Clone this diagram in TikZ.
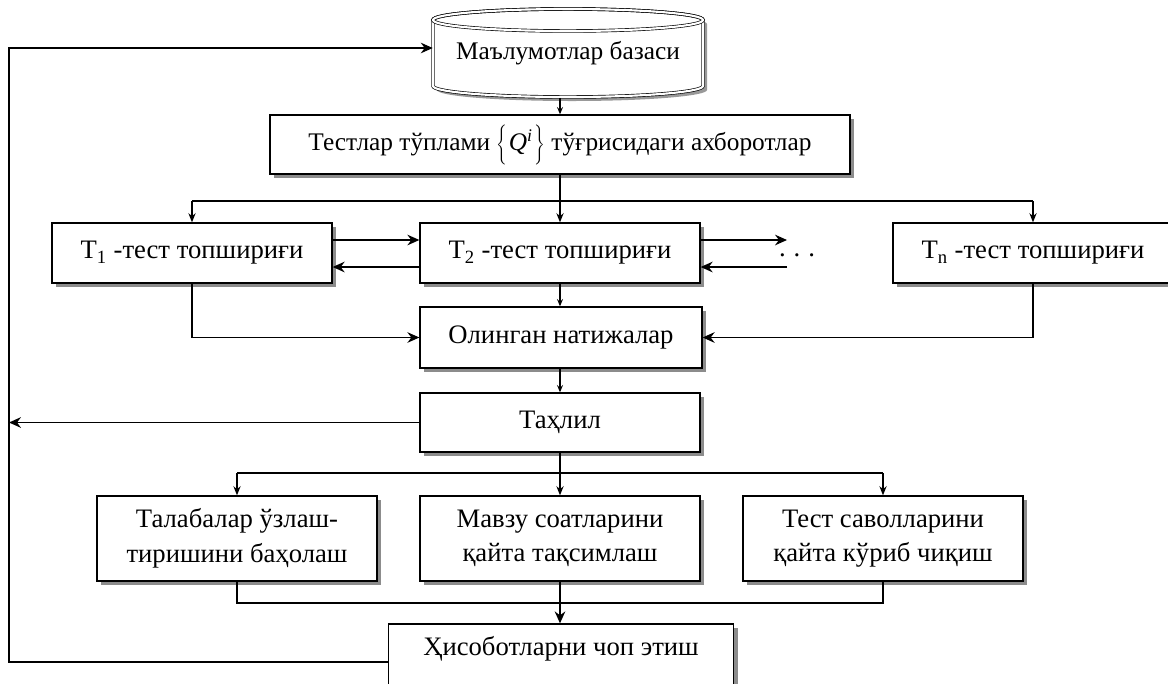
\documentclass[tikz,border=0pt]{standalone}
\usepackage{fontspec}
\setmainfont{Liberation Serif}
\usetikzlibrary{arrows.meta,calc,shadows}
\begin{document}
\begin{tikzpicture}[x=0.75pt,y=-0.75pt,
  box/.style={draw, line width=1pt, fill=white, align=center, inner sep=2pt,
     drop shadow={shadow xshift=3pt, shadow yshift=-3pt, fill=black!45, opacity=1},
     font=\fontsize{20}{26}\selectfont},
  ln/.style={line width=0.9pt},
  arr/.style={ln, -{Stealth[length=9pt,width=8pt,inset=3pt]}},
  marr/.style={ln, -{Stealth[length=7pt,width=5.5pt,inset=2.5pt]}},
  sarr/.style={ln, -{Stealth[length=5.5pt,width=4.5pt,inset=2pt]}},
  cyl/.style={draw, line width=0.5pt, double=white, double distance=1.6pt}]
\useasboundingbox (0,0) rectangle (1168,683);

% database cylinder
\fill[black!40, shift={(4,4)}] (433,20) -- (433,86)
   arc[start angle=180, end angle=0, x radius=135, y radius=11] -- (703,20)
   arc[start angle=0, end angle=-180, x radius=135, y radius=11] -- cycle;
\path[fill=white, cyl] (433,20) -- (433,86)
   arc[start angle=180, end angle=0, x radius=135, y radius=11] -- (703,20)
   arc[start angle=0, end angle=-180, x radius=135, y radius=11] -- cycle;
\draw[cyl] (568,20) ellipse[x radius=135, y radius=11];
\node[minimum width=202.5pt, minimum height=66.75pt, inner sep=0] (db) at (568,53)
   {\fontsize{19}{22}\selectfont Маълумотлар базаси};

% boxes
\node[box, minimum width=435pt, minimum height=44.25pt] (top) at (560,144.5)
   {\fontsize{19}{22}\selectfont Тестлар тўплами $\left\{\rule[-8pt]{0pt}{26pt}\right.$\textit{Q}\textsuperscript{\textit{i}}$\left.\rule[-8pt]{0pt}{26pt}\right\}$ тўғрисидаги ахборотлар};
\node[box, minimum width=210pt, minimum height=45pt] (T1) at (192,253) {T\textsubscript{1} -тест топшириғи};
\node[box, minimum width=210pt, minimum height=45pt] (T2) at (560,253) {T\textsubscript{2} -тест топшириғи};
\node[box, minimum width=210pt, minimum height=45pt] (Tn) at (1033,253) {T\textsubscript{n} -тест топшириғи};
\node[font=\fontsize{20}{24}\selectfont, inner sep=0] (dots) at (797,255) {.\kern6pt.\kern6pt.};
\node[box, minimum width=211.5pt, minimum height=45.75pt] (ol) at (561,337.5) {Олинган натижалар};
\node[box, minimum width=210pt, minimum height=44.25pt] (tah) at (560,422.5) {Таҳлил};
\node[box, minimum width=210pt, minimum height=63.75pt] (b1) at (237,538.5) {Талабалар ўзлаш-\\тиришини баҳолаш};
\node[box, minimum width=210pt, minimum height=63.75pt] (b2) at (560,538.5) {Мавзу соатларини\\қайта тақсимлаш};
\node[box, minimum width=210pt, minimum height=63.75pt] (b3) at (883,538.5) {Тест саволларини\\қайта кўриб чиқиш};
\node[box, minimum width=258.75pt, minimum height=49.5pt, text height=14pt, text depth=17pt] (rep) at (561,657) {Ҳисоботларни чоп этиш};

% coordinates
\coordinate (lt) at (9,48);
\coordinate (lb) at (9,662);
\coordinate (d1) at (560,201);
\coordinate (r1) at (787,240);
\coordinate (r2) at (787,267);
\coordinate (d2) at (560,473);
\coordinate (c2) at (560,603);

% connectors
\draw[sarr] (top.north |- db.south) -- (top.north);
\draw[ln] (T1.north |- d1) -- (Tn.north |- d1);
\draw[marr] (T1.north |- d1) -- (T1.north);
\draw[marr] (Tn.north |- d1) -- (Tn.north);
\draw[marr] (top.south) -- (T2.north);
\draw[arr] (T1.east |- r1) -- (T2.west |- r1);
\draw[arr] (T2.west |- r2) -- (T1.east |- r2);
\draw[arr] (T2.east |- r1) -- (r1);
\draw[arr] (r2) -- (T2.east |- r2);
\draw[arr] (T1.south) |- (ol.west);
\draw[arr] (Tn.south) |- (ol.east);
\draw[sarr] (T2.south) -- (T2.south |- ol.north);
\draw[sarr] (tah.north |- ol.south) -- (tah.north);
\draw[arr] (tah.west) -- (tah.west -| lt);
\draw[ln] (b1.north |- d2) -- (b3.north |- d2);
\draw[marr] (b1.north |- d2) -- (b1.north);
\draw[marr] (b3.north |- d2) -- (b3.north);
\draw[marr] (tah.south) -- (b2.north);
\draw[ln] (b1.south) |- (c2);
\draw[ln] (b3.south) |- (c2);
\draw[arr] (b2.south) -- (b2.south |- rep.north);
\draw[arr] (rep.west |- lb) -- (lb) -- (lt) -- (db.west |- lt);
\end{tikzpicture}
\end{document}
